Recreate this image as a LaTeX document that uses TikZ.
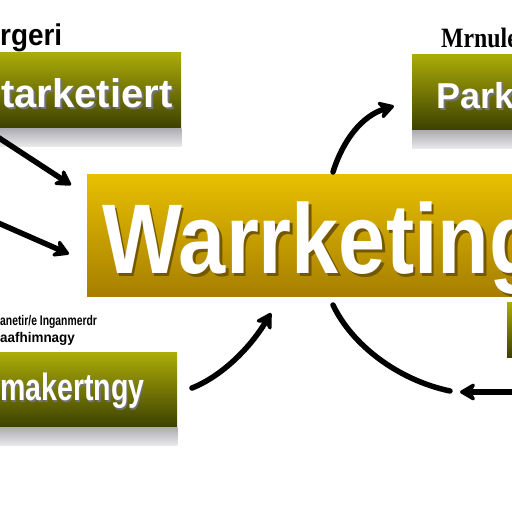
\documentclass[tikz,border=0pt]{standalone}
\usepackage{fontspec}
\setmainfont{Liberation Sans}
\newfontfamily\lblserif{Liberation Serif}
\usepackage{graphicx}
\usetikzlibrary{arrows.meta,positioning}
\definecolor{olivetop}{RGB}{172,172,8}
\definecolor{olivebot}{RGB}{60,64,0}
\definecolor{goldtop}{RGB}{232,192,0}
\definecolor{goldbot}{RGB}{166,126,0}
\definecolor{shadetop}{RGB}{172,172,178}
\definecolor{shadebot}{RGB}{234,234,237}
% white text with a dark copy just below it
\newcommand{\raised}[3]{\makebox[0pt][l]{\hspace{#2}\raisebox{-#2}{\color{#1}#3}}#3}

\begin{document}
\begin{tikzpicture}[x=1pt, y=-1pt,
    box/.style = {inner sep=0pt, anchor=north west, align=left, text=white, font=\bfseries, top color=olivetop, bottom color=olivebot},
    lbl/.style = {inner sep=0pt, anchor=base west},
    arr/.style = {line width=5.5pt, line cap=round, -{Stealth[length=19pt,width=22pt,round]}}]
		\useasboundingbox (0,0) rectangle (512,512);
		\clip (0,0) rectangle (512,512);
		\node[box, text width=201pt, text height=55pt, text depth=21pt] (1) at (-20,52)
			{\noindent\hspace*{21pt}\fontsize{40}{40}\selectfont\raised{black!55}{2pt}{tarketiert}};
		\node[box, text width=130pt, text height=54pt, text depth=22pt] (2) at (412,54)
			{\noindent\hspace*{24pt}\fontsize{36}{36}\selectfont\raised{black!55}{2pt}{Park}};
		\node[box, top color=goldtop, bottom color=goldbot, text width=470pt, text height=99pt, text depth=23pt] (3) at (87,174)
			{\noindent\hspace*{15pt}\fontsize{99}{99}\selectfont\scalebox{0.855}[1]{\raised{goldbot!70!black}{3pt}{Warrketing}}};
		\node[box, text width=197pt, text height=48pt, text depth=27pt] (4) at (-20,352)
			{\noindent\hspace*{20pt}\fontsize{38}{38}\selectfont\scalebox{0.75}[1]{\raised{black!55}{2pt}{makertngy}}};
		\node[box, text width=40pt, text height=55pt, text depth=0pt] (5) at (507,302) {};
		\foreach \n in {1,2,4}
			\shade[top color=shadetop, bottom color=shadebot] (\n.south west) rectangle ([yshift=-18pt]\n.south east);
		\node[lbl, font=\bfseries\fontsize{30}{30}\selectfont] (6) at (0,45) {\scalebox{0.93}[1]{rgeri}};
		\node[lbl, font=\lblserif\bfseries\fontsize{28}{28}\selectfont] (7) at (441,47) {\scalebox{0.85}[1]{Mrnule}};
		\node[lbl, font=\bfseries\fontsize{14}{14}\selectfont] (8) at (0,325) {\scalebox{0.74}[1]{anetir/e Inganmerdr}};
		\node[lbl, font=\bfseries\fontsize{14}{14}\selectfont] (9) at (0,342) {\scalebox{0.96}[1]{aafhimnagy}};
		% free ends of the arrows
		\coordinate (a1) at (-4,136);  \coordinate (b1) at (71,185);
		\coordinate (a2) at (-4,222);  \coordinate (b2) at (69,254);
		\coordinate (a3) at (333,172); \coordinate (b3) at (394,106);
		\coordinate (a4) at (192,388); \coordinate (b4) at (271,313);
		\coordinate (a5) at (333,305); \coordinate (b5) at (450,391);
		\coordinate (a6) at (520,392); \coordinate (b6) at (460,392);
		\draw[arr] (a1) -- (b1);
		\draw[arr] (a2) -- (b2);
		\draw[arr] (a3) .. controls (343,140) and (362,116) .. (b3);
		\draw[arr] (a4) .. controls (222,376) and (250,348) .. (b4);
		\draw[line width=5.5pt, line cap=round] (a5) .. controls (352,345) and (398,380) .. (b5);
		\draw[arr] (a6) -- (b6);
	\end{tikzpicture}
\end{document}
